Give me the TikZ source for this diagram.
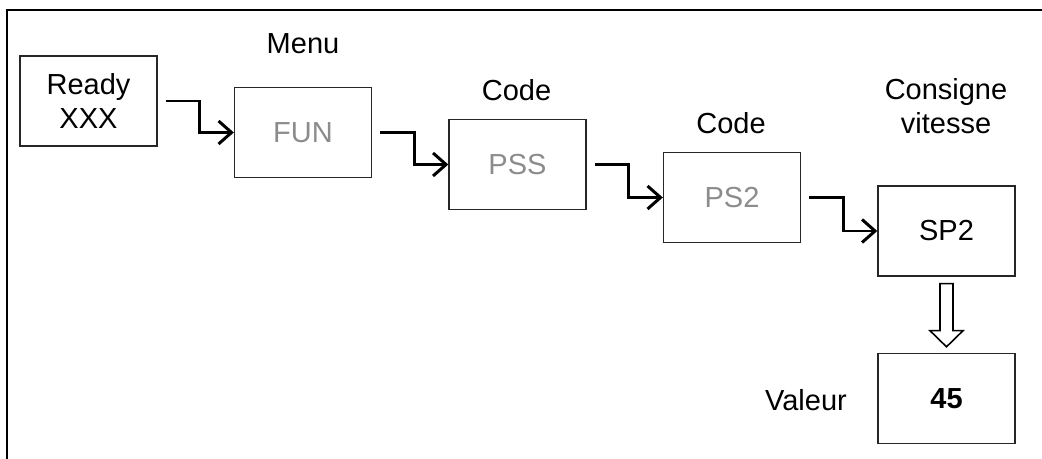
\documentclass[tikz,border=0pt]{standalone}
\usepackage{fontspec}
\setmainfont{Liberation Sans}
\usepackage{tikz}
\usetikzlibrary{calc,arrows.meta}

\tikzset{
	screen/.style={draw=black!85,line width=0.8pt,minimum width=2.74cm,minimum height=1.8cm,align=center},
	flow/.style={line width=1.7pt,-{Straight Barb[length=2.6mm,width=4.6mm,line width=1.7pt]}},
	caption/.style={align=center}
}

\begin{document}
\begin{tikzpicture}[font=\fontsize{16.5}{19.5}\selectfont]
		\useasboundingbox (0,0) rectangle (20.84,9.18);
		% cadre
		\draw[line width=1pt] (0.14,0) -- (0.14,8.98) -- (20.84,8.98);
		
		\node[screen] (ready)at(1.77,7.16) {Ready\\XXX};
		\node[screen,text=black!45] (fun)at(6.06,6.53) {FUN};
		\node[screen,text=black!45] (pss)at(10.35,5.89) {PSS};
		\node[screen,text=black!45] (ps2)at(14.64,5.23) {PS2};
		\node[screen] (sp2)at(18.93,4.56) {SP2};
		\node[screen,font=\fontsize{16.5}{19.5}\selectfont\bfseries] (val)at(18.93,1.21) {45};
		
		\node[caption] (menu)at(6.06,8.30) {Menu};
		\node[caption] (code1)at(10.33,7.38) {Code};
		\node[caption] (code2)at(14.62,6.72) {Code};
		\node[caption] (consigne)at(18.92,7.06) {Consigne\\vitesse};
		\node[caption] (valeur)at(16.12,1.18) {Valeur};
		
		\draw[flow] ([xshift=0.16cm]ready.east) -| ($([xshift=0.16cm]ready.east)!0.5!(fun.west)$) |- (fun.west);
		\draw[flow] ([xshift=0.16cm]fun.east) -| ($([xshift=0.16cm]fun.east)!0.5!(pss.west)$) |- (pss.west);
		\draw[flow] ([xshift=0.16cm]pss.east) -| ($([xshift=0.16cm]pss.east)!0.5!(ps2.west)$) |- (ps2.west);
		\draw[flow] ([xshift=0.16cm]ps2.east) -| ($([xshift=0.16cm]ps2.east)!0.5!(sp2.west)$) |- (sp2.west);
		
		% fleche creuse
		\draw[line width=0.9pt,line join=miter]
			($(sp2.south)+(-0.13,-0.14)$) -- ($(sp2.south)+(0.13,-0.14)$) -- ($(sp2.south)+(0.13,-1.08)$)
			-- ($(sp2.south)+(0.33,-1.08)$) -- ($(val.north)+(0,0.12)$) -- ($(sp2.south)+(-0.33,-1.08)$)
			-- ($(sp2.south)+(-0.13,-1.08)$) -- cycle;
	\end{tikzpicture}
\end{document}
